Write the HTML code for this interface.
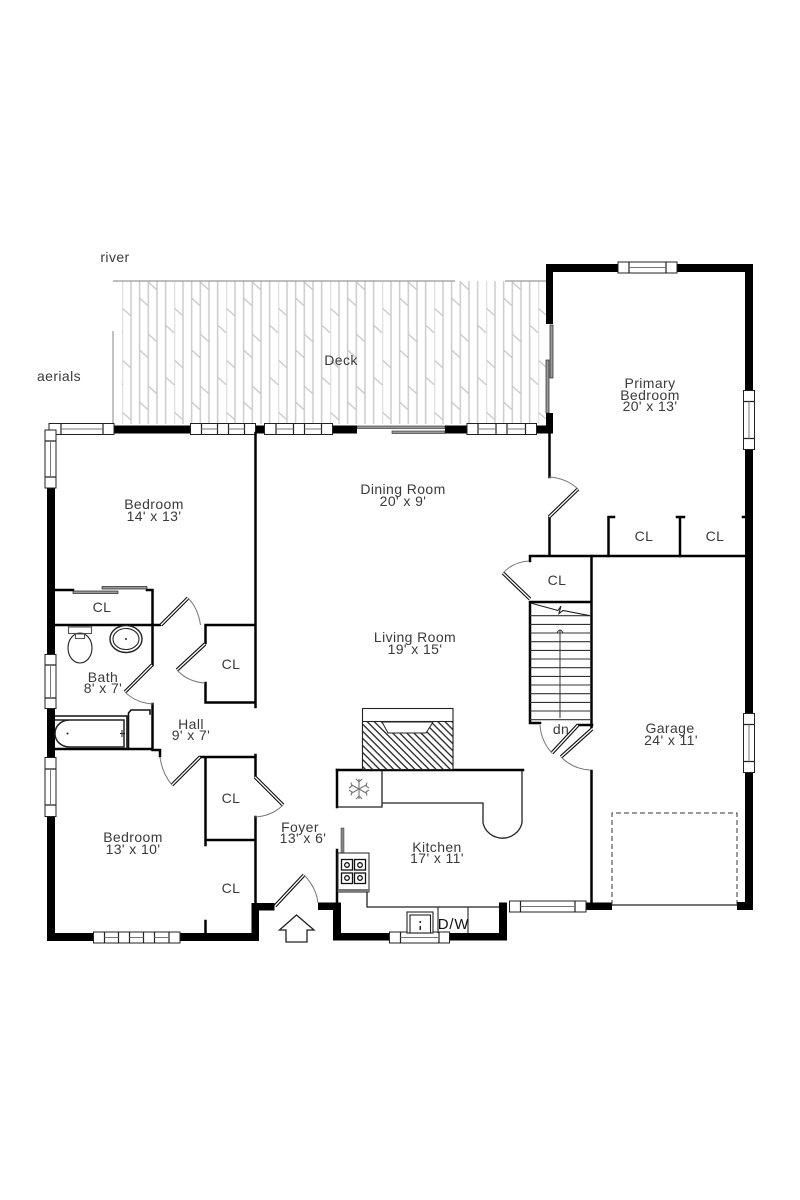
<!DOCTYPE html>
<html><head><meta charset="utf-8"><style>
html,body{margin:0;padding:0;background:#fff}
svg{display:block}
text{font-family:"Liberation Sans",sans-serif;font-size:14px;fill:#3a3a3a;text-anchor:middle;letter-spacing:.4px}
.w{fill:#000;stroke:none}
.t{fill:none;stroke:#000;stroke-width:2.5;stroke-linecap:square}
.th{fill:none;stroke:#111;stroke-width:1.6;stroke-linecap:square}
.n{fill:none;stroke:#222;stroke-width:1.2}
.a{fill:none;stroke:#777;stroke-width:1}
.win{fill:#fff;stroke:#222;stroke-width:1}
.il{fill:none;stroke:#777;stroke-width:1}
.d1{fill:none;stroke:#111;stroke-width:3.6}
.d2{fill:none;stroke:#fff;stroke-width:1.3}
</style></head><body>
<svg width="800" height="1200" viewBox="0 0 800 1200" xmlns="http://www.w3.org/2000/svg">
<defs>
<pattern id="deck" patternUnits="userSpaceOnUse" x="122.3" y="281" width="52" height="52">
<g stroke="#ccc" stroke-width="1.5" fill="none">
<path d="M0 0V52M8.67 0V52M17.33 0V52M26 0V52M34.67 0V52M43.33 0V52"/>
<path d="M0 27L8.67 35M17.33 17L26 25M26 1L34.67 9M43.33 44L52 52"/>
</g></pattern>
<pattern id="hatch" patternUnits="userSpaceOnUse" width="5" height="5" patternTransform="rotate(45)">
<rect width="5" height="5" fill="#fff"/><rect width="5" height="1.3" fill="#222"/></pattern>
</defs>
<rect width="800" height="1200" fill="#fff"/>

<!-- deck -->
<rect x="121.500" y="281" width="424" height="143" fill="url(#deck)"/>
<path d="M113 281H455M505 281H546M113 331V425" fill="none" stroke="#999" stroke-width="1.2"/>

<!-- exterior walls -->
<path class="w" d="M546 264H753V910H737V902H745V272H553V324H546Z"/>
<rect class="w" x="546" y="413" width="7" height="20"/>
<rect class="w" x="113" y="425.5" width="78" height="8"/>
<rect class="w" x="255" y="425.5" width="10" height="8"/>
<rect class="w" x="332" y="425.5" width="25" height="8"/>
<rect class="w" x="445" y="425.5" width="108" height="8"/>
<rect class="w" x="47" y="430" width="8" height="510"/>
<rect class="w" x="47" y="933" width="212" height="8"/>
<rect class="w" x="251.5" y="903" width="7.5" height="38"/>
<rect class="w" x="251.5" y="903" width="23" height="7.5"/>
<rect class="w" x="318" y="902.5" width="23" height="7.5"/>
<rect class="w" x="333" y="902.5" width="8" height="38"/>
<rect class="w" x="333" y="933" width="174" height="7.5"/>
<rect class="w" x="499" y="902.5" width="8" height="38"/>
<rect class="w" x="586" y="902.5" width="26" height="7.5"/>

<!-- sliding doors -->
<rect x="550" y="325" width="3" height="53" fill="#999" stroke="#222" stroke-width=".7"/>
<rect x="546" y="360" width="3" height="53" fill="#999" stroke="#222" stroke-width=".7"/>
<rect x="357" y="426" width="88" height="2.5" fill="#999" stroke="#222" stroke-width=".6"/>
<rect x="392" y="431" width="53" height="2.5" fill="#999" stroke="#222" stroke-width=".6"/>

<!-- windows -->
<g>
<rect class="win" x="49" y="423.5" width="65" height="11"/><path class="n" d="M61 423.5V434.5M103 423.5V434.5"/><path class="il" d="M61 429H103"/>
<rect class="win" x="190.5" y="423.5" width="65" height="11"/><path class="n" d="M201.5 423.5V434.5M217.500 423.5V434.5M228.500 423.5V434.5M244.500 423.5V434.5"/><path class="il" d="M201.500 429H217.500M228.500 429H244.500"/>
<rect class="win" x="264.500" y="423.500" width="68" height="11"/><path class="n" d="M276 423.500V434.500M293.500 423.500V434.500M304.500 423.500V434.500M321.500 423.500V434.500"/><path class="il" d="M276 429H293.500M304.500 429H321.500"/>
<rect class="win" x="467" y="423.500" width="69.500" height="11"/><path class="n" d="M478 423.500V434.500M496 423.500V434.500M507 423.500V434.500M525.500 423.500V434.500"/><path class="il" d="M478 429H496M507 429H525.500"/>
<rect class="win" x="618" y="262" width="59" height="11"/><path class="n" d="M629 262V273M666 262V273"/><path class="il" d="M629 267.500H666"/>
<rect class="win" x="743.500" y="390.500" width="11" height="59"/><path class="n" d="M754.500 401.500H743.500M754.500 438.500H743.500"/><path class="il" d="M749 401.500V438.500"/>
<rect class="win" x="743.500" y="713.500" width="11" height="59"/><path class="n" d="M754.500 724.500H743.500M754.500 761.500H743.500"/><path class="il" d="M749 724.500V761.500"/>
<rect class="win" x="45" y="430" width="11" height="58"/><path class="n" d="M45 441H56M45 477H56"/><path class="il" d="M50.500 441V477"/>
<rect class="win" x="45" y="654.500" width="11" height="54"/><path class="n" d="M45 665H56M45 698H56"/><path class="il" d="M50.500 665V698"/>
<rect class="win" x="45" y="757.500" width="11" height="59"/><path class="n" d="M45 769H56M45 805H56"/><path class="il" d="M50.500 769V805"/>
<rect class="win" x="93.500" y="932" width="86.500" height="11"/><path class="n" d="M104.500 932V943M118.500 932V943M129.500 932V943M143.500 932V943M154.500 932V943M169 932V943"/><path class="il" d="M104.500 937.500H118.500M129.500 937.500H143.500M154.500 937.500H169"/>
<rect class="win" x="389.500" y="932" width="60" height="11"/><path class="n" d="M400.500 932V943M439 932V943"/><path class="il" d="M400.500 937.500H439"/>
<rect class="win" x="509.500" y="901" width="76.500" height="11"/><path class="n" d="M520.500 901V912M575 901V912"/><path class="il" d="M520.500 906.500H575"/>
</g>

<!-- interior walls -->
<g class="t">
<path d="M255.500 433V625M205.500 625H255.500M205.500 625V643M205.500 683V702.500H255.500M255.500 625V707"/>
<path d="M55 625H160M55 590H73M147 590H152.500V665"/>
<path d="M152.500 704V750H160V756"/>
<path d="M55 749H152"/>
<path d="M200 757H255.500M205.500 757V845M205.500 840H255.500M255.500 755V776M255.500 817V903M205.500 921V933"/>
<path d="M549.500 433V477M549.500 517V556M530 556H745M530 556V561"/>
<path d="M608.500 517H614M608.500 517V556M680 517V556M677 517H684M745 517H743"/>
<path d="M591.500 556V727M591.500 771V902"/>
<path d="M530 602V723H540M530 602H591M578 725H592"/>
<path d="M337 770H523"/>
<path d="M337 770V807"/>
<path d="M337 850V902"/>
</g>
<path class="th" d="M55 716H127V748"/>
<path class="th" d="M128.500 748V713L131 710H150V714"/>

<!-- doors -->
<g>
<path class="d1" d="M161 625L188 598"/><path class="d2" d="M161 625L188 598"/>
<path class="d1" d="M205 644L177 670"/><path class="d2" d="M205 644L177 670"/>
<path class="d1" d="M152 665L125 692"/><path class="d2" d="M152 665L125 692"/>
<path class="d1" d="M172 785L200 757"/><path class="d2" d="M172 785L200 757"/>
<path class="d1" d="M255 777L283 805"/><path class="d2" d="M255 777L283 805"/>
<path class="d1" d="M275 906L304 875"/><path class="d2" d="M275 906L304 875"/>
<path class="d1" d="M549 517L578 489"/><path class="d2" d="M549 517L578 489"/>
<path class="d1" d="M530 599L503 573"/><path class="d2" d="M530 599L503 573"/>
<path class="d1" d="M578 725L552 753"/><path class="d2" d="M578 725L552 753"/>
<path class="d1" d="M592 729L561 757"/><path class="d2" d="M592 729L561 757"/>
<path class="a" d="M188 598Q198 608 200.500 625"/>
<path class="a" d="M177 670Q188 682 205 683"/>
<path class="a" d="M125 692Q136 703 153 704"/>
<path class="a" d="M160 757Q162 773 172 785"/>
<path class="a" d="M283 805Q272 816 255 817"/>
<path class="a" d="M304 875Q316 887 318 903"/>
<path class="a" d="M578 489Q566 478 549 477"/>
<path class="a" d="M503 573Q513 562 529 561"/>
<path class="a" d="M552 753Q541 741 540 725"/>
<path class="a" d="M561 757Q573 769 590 770"/>
</g>

<!-- closet sliders -->
<rect x="73" y="591" width="45" height="2.500" fill="#999" stroke="#222" stroke-width=".7"/>
<rect x="102" y="586.500" width="45" height="2.500" fill="#999" stroke="#222" stroke-width=".7"/>

<!-- bath fixtures -->
<g fill="#fff" stroke="#222" stroke-width="1.100">
<rect x="68.500" y="627" width="23" height="6.500" stroke="#555"/>
<ellipse cx="80" cy="648" rx="12" ry="15"/>
<rect x="75.500" y="634" width="9" height="4.500" stroke="#555"/>
<ellipse cx="126" cy="639" rx="16" ry="13.500" stroke-width="1.400"/>
<ellipse cx="126" cy="639" rx="13" ry="10.500"/>
<path d="M55 720H124V747H70C60 747 55 740 55 733.500C55 727 60 720 70 720Z" stroke-width="1.500"/>
</g>
<circle cx="126" cy="639" r="1" fill="#222"/><circle cx="67.500" cy="733.500" r="1" fill="#222"/>
<path d="M120 733.500H125M122 730V737" stroke="#222" fill="none"/>

<!-- stairs -->
<path d="M530 615.700H591M530 624.400H591M530 633H591M530 641.700H591M530 650.400H591M530 659H591M530 667.700H591M530 676.400H591M530 685H591M530 693.700H591M530 702.400H591M530 711H591M530 719.700H591" stroke="#333" stroke-width="1.100" fill="none"/>
<path d="M530.500 603L558 610.500L561 606L559 613.500L563 610.500L590 615.700" stroke="#222" stroke-width="1.100" fill="none"/>
<path d="M560 718V630M557 633Q560 627 563 633" stroke="#333" stroke-width="1" fill="none"/>

<!-- fireplace -->
<rect x="362.500" y="708.500" width="90.500" height="61" fill="#fff" stroke="#222" stroke-width="1.100"/>
<rect x="362.500" y="721.500" width="90.500" height="48" fill="url(#hatch)" stroke="#222" stroke-width="1.100"/>
<path d="M382 722L388 733H426L433 722Z" fill="#fff" stroke="#222" stroke-width="1"/>

<!-- kitchen -->
<path d="M382 770V807H337M382 803H483V823A20 19.500 0 0 0 522 823V770" fill="none" stroke="#222" stroke-width="1.300"/>
<g stroke="#777" stroke-width="1.100" fill="none">
<path d="M359 779V799M351 784.500L367 793.500M367 784.500L351 793.500"/>
<path d="M356 779L359 782L362 779M356 799L359 796L362 799M349 788L352 786L351 782.500M369 790L366 792L367 795.500M349 790L352 792L351 795.500M369 788L366 786L367 782.500"/>
</g>
<rect x="341" y="828" width="3" height="28" fill="#888" stroke="#333" stroke-width=".5"/>
<rect x="338" y="853" width="31" height="39" fill="#fff" stroke="#333" stroke-width="1.100"/>
<rect x="338" y="889" width="31" height="3" fill="#777"/>
<g fill="#fff" stroke="#111" stroke-width="1.300">
<rect x="341.500" y="859.500" width="11" height="10.500"/><rect x="354.500" y="859.500" width="11" height="10.500"/>
<rect x="341.500" y="873" width="11" height="10.500"/><rect x="354.500" y="873" width="11" height="10.500"/>
<circle cx="347" cy="865" r="2.300"/><circle cx="360" cy="865" r="2.300"/><circle cx="347" cy="878" r="2.300"/><circle cx="360" cy="878" r="2.300"/>
</g>
<path d="M367 892V907H499" fill="none" stroke="#222" stroke-width="1.300"/>
<rect x="407" y="912" width="26" height="21" fill="#fff" stroke="#222" stroke-width="1.100"/>
<rect x="410" y="915" width="20.500" height="18" fill="#fff" stroke="#222" stroke-width="1.100"/>
<rect x="419.500" y="921" width="1.500" height="2" fill="#222"/><rect x="419.500" y="926" width="1.500" height="4" fill="#222"/>
<path d="M438 907V933M468 907V933" stroke="#222" stroke-width="1.100" fill="none"/>

<!-- garage door -->
<path d="M612 905H737" stroke="#222" stroke-width="1.200" fill="none"/>
<path d="M737 905V813H612V905" stroke="#333" stroke-width="1" stroke-dasharray="5 3" fill="none"/>

<!-- entry arrow -->
<path d="M279.500 930L296.500 915L314 930H307V942H286V930Z" fill="#fff" stroke="#222" stroke-width="1.300"/>

<!-- labels -->
<text x="115" y="262">river</text>
<text x="59" y="381">aerials</text>
<text x="341" y="365">Deck</text>
<text x="650" y="388">Primary</text>
<text x="650" y="400">Bedroom</text>
<text x="650" y="411">20' x 13'</text>
<text x="403" y="494">Dining Room</text>
<text x="403" y="506">20' x 9'</text>
<text x="154" y="509">Bedroom</text>
<text x="154" y="521">14' x 13'</text>
<text x="102" y="612">CL</text>
<text x="231" y="669">CL</text>
<text x="103" y="682">Bath</text>
<text x="103" y="693">8' x 7'</text>
<text x="191" y="729">Hall</text>
<text x="191" y="740">9' x 7'</text>
<text x="231" y="803">CL</text>
<text x="231" y="893">CL</text>
<text x="133" y="842">Bedroom</text>
<text x="133" y="854">13' x 10'</text>
<text x="300" y="832">Foyer</text>
<text x="303" y="843">13' x 6'</text>
<text x="415" y="642">Living Room</text>
<text x="415" y="654">19' x 15'</text>
<text x="437" y="852">Kitchen</text>
<text x="437" y="863">17' x 11'</text>
<text x="670" y="733">Garage</text>
<text x="671" y="745">24' x 11'</text>
<text x="644" y="541">CL</text>
<text x="715" y="541">CL</text>
<text x="557" y="585">CL</text>
<text x="561" y="734">dn</text>
<text x="453.500" y="929" style="font-size:15px;fill:#111;letter-spacing:.8px">D/W</text>
</svg>
</body></html>
